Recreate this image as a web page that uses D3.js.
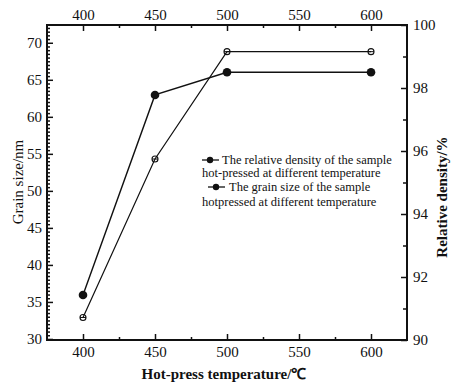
<!DOCTYPE html>
<html>
<head>
<meta charset="utf-8">
<script src="https://cdn.jsdelivr.net/npm/d3@7"></script>
<style>
  body { margin: 0; background: #fff; }
  svg { display: block; }
  .axis path, .axis line { stroke: #111; }
</style>
</head>
<body>
<div id="chart"></div>
<script>
// hot-press temperature (°C)
var temps = [400, 450, 500, 600];
// grain size, nm (open markers, left axis)
var grainSize = [32.9, 54.3, 68.8, 68.8];
// relative density, % (filled markers, right axis)
var density = [91.43, 97.78, 98.5, 98.5];

var xTicks = [400, 450, 500, 550, 600];
var xMinor = [425, 475, 525, 575];
var leftTicks = [30, 35, 40, 45, 50, 55, 60, 65, 70];
var rightTicks = [90, 92, 94, 96, 98, 100];
var rightMinor = [91, 93, 95, 97, 99];

var legendLines = [
  ["The relative density of the sample", "hot-pressed at different temperature"],
  ["The grain size of the sample", "hotpressed at different temperature"]
];

var W = 451, H = 386;
var margin = {top: 25, right: 44, bottom: 46, left: 47};
var width = W - margin.left - margin.right;
var height = H - margin.top - margin.bottom;
var serif = '"Liberation Serif", "Times New Roman", serif';

var svg = d3.select('#chart').append('svg')
  .attr('width', W)
  .attr('height', H);

var g = svg.append('g')
  .attr('transform', 'translate(' + margin.left + ',' + margin.top + ')');

var x = d3.scaleLinear().domain([375, 625]).range([0, width]);
var yL = d3.scaleLinear().domain([29.86, 72.4]).range([height, 0]);
var yR = d3.scaleLinear().domain([90, 100]).range([height, 0]);

// left minor ticks every 0.5
var leftMinor = d3.range(30, 72.5, 0.5).filter(function(v) { return v % 5 !== 0; });

// axes, ticks pointing inward
g.append('g').attr('class', 'axis')
  .attr('transform', 'translate(0,' + height + ')')
  .call(d3.axisBottom(x).tickValues(xTicks).tickSizeInner(-6).tickSizeOuter(0).tickPadding(6));
g.append('g').attr('class', 'axis')
  .attr('transform', 'translate(0,' + height + ')')
  .call(d3.axisBottom(x).tickValues(xMinor).tickSizeInner(-3).tickSizeOuter(0).tickFormat(''));

g.append('g').attr('class', 'axis')
  .call(d3.axisTop(x).tickValues(xTicks).tickSizeInner(-6).tickSizeOuter(0).tickPadding(5));
g.append('g').attr('class', 'axis')
  .call(d3.axisTop(x).tickValues(xMinor).tickSizeInner(-3).tickSizeOuter(0).tickFormat(''));

g.append('g').attr('class', 'axis')
  .call(d3.axisLeft(yL).tickValues(leftTicks).tickSizeInner(-6).tickSizeOuter(0).tickPadding(5));
g.append('g').attr('class', 'axis')
  .call(d3.axisLeft(yL).tickValues(leftMinor).tickSizeInner(-3).tickSizeOuter(0).tickFormat(''));

g.append('g').attr('class', 'axis')
  .attr('transform', 'translate(' + width + ',0)')
  .call(d3.axisRight(yR).tickValues(rightTicks).tickSizeInner(-6).tickSizeOuter(0).tickPadding(6));
g.append('g').attr('class', 'axis')
  .attr('transform', 'translate(' + width + ',0)')
  .call(d3.axisRight(yR).tickValues(rightMinor).tickSizeInner(-4).tickSizeOuter(0).tickFormat(''));

g.selectAll('.axis').attr('font-family', serif).attr('font-size', 15);
g.selectAll('.axis text').attr('fill', '#111');
g.selectAll('.axis .domain').remove();
g.selectAll('.axis line').attr('stroke-width', 1.5);

// frame
g.append('rect')
  .attr('width', width).attr('height', height)
  .attr('fill', 'none').attr('stroke', '#111').attr('stroke-width', 2);

// data lines
var grainLine = d3.line()
  .x(function(d, i) { return x(temps[i]); })
  .y(function(d) { return yL(d); });
var densLine = d3.line()
  .x(function(d, i) { return x(temps[i]); })
  .y(function(d) { return yR(d); });

g.append('path').datum(grainSize)
  .attr('d', grainLine).attr('fill', 'none').attr('stroke', '#111').attr('stroke-width', 1.2);
g.append('path').datum(density)
  .attr('d', densLine).attr('fill', 'none').attr('stroke', '#111').attr('stroke-width', 1.4);

g.selectAll('circle.grain').data(grainSize).enter().append('circle')
  .attr('class', 'grain')
  .attr('cx', function(d, i) { return x(temps[i]); })
  .attr('cy', function(d) { return yL(d); })
  .attr('r', 3)
  .attr('fill', 'none').attr('stroke', '#111').attr('stroke-width', 1.1);
g.selectAll('line.grain-bar').data(grainSize).enter().append('line')
  .attr('class', 'grain-bar')
  .attr('x1', function(d, i) { return x(temps[i]) - 3; })
  .attr('x2', function(d, i) { return x(temps[i]) + 3; })
  .attr('y1', function(d) { return yL(d); })
  .attr('y2', function(d) { return yL(d); })
  .attr('stroke', '#111').attr('stroke-width', 1);

g.selectAll('circle.dens').data(density).enter().append('circle')
  .attr('class', 'dens')
  .attr('cx', function(d, i) { return x(temps[i]); })
  .attr('cy', function(d) { return yR(d); })
  .attr('r', 4.3)
  .attr('fill', '#111');

// legend
var leg = svg.append('g');
var rows = [
  {mx: 210, my: 160, lx0: 202, lx1: 219, tx: 222, ty: 164, t2y: 177},
  {mx: 216, my: 187, lx0: 208, lx1: 225, tx: 229, ty: 191, t2y: 206}
];
rows.forEach(function(r, i) {
  leg.append('line').attr('x1', r.lx0).attr('x2', r.lx1).attr('y1', r.my).attr('y2', r.my)
    .attr('stroke', '#111').attr('stroke-width', 1.3);
  leg.append('circle').attr('cx', r.mx).attr('cy', r.my).attr('r', 3.2).attr('fill', '#111');
  leg.append('text').attr('x', r.tx).attr('y', r.ty)
    .style('font-family', serif).style('font-size', '12.5px').attr('fill', '#111')
    .text(legendLines[i][0]);
  leg.append('text').attr('x', 202).attr('y', r.t2y)
    .style('font-family', serif).style('font-size', '12.5px').attr('fill', '#111')
    .text(legendLines[i][1]);
});

// axis titles
svg.append('text')
  .attr('x', 224).attr('y', 379)
  .attr('text-anchor', 'middle')
  .style('font-family', serif).style('font-size', '15px').style('font-weight', 'bold')
  .attr('fill', '#111')
  .text('Hot-press temperature/\u2103');

svg.append('text')
  .attr('transform', 'translate(23,182) rotate(-90)')
  .attr('text-anchor', 'middle')
  .style('font-family', serif).style('font-size', '15px')
  .attr('fill', '#111')
  .text('Grain size/nm');

svg.append('text')
  .attr('transform', 'translate(447,197) rotate(-90)')
  .attr('text-anchor', 'middle')
  .style('font-family', serif).style('font-size', '15px').style('font-weight', 'bold')
  .attr('fill', '#111')
  .text('Relative density/%');
</script>
</body>
</html>
